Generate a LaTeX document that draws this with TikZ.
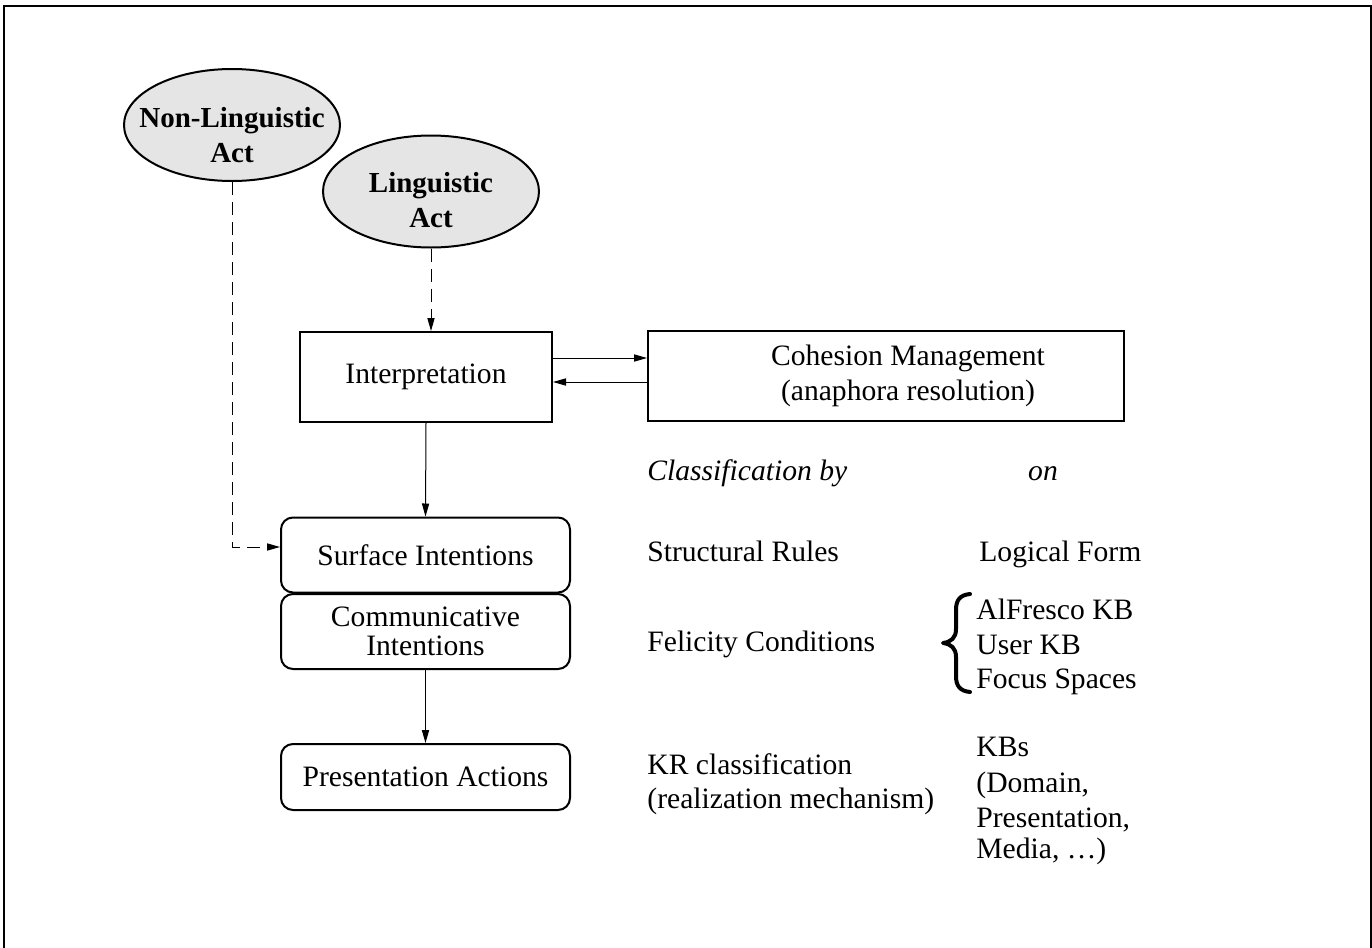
\documentclass[tikz,border=0pt]{standalone}
\usepackage{fontspec}
\setmainfont{Liberation Serif}
\usetikzlibrary{shapes.geometric,arrows.meta}

\tikzset{
  box/.style={draw, line width=1pt, minimum width=126pt, minimum height=45pt,
    inner sep=0pt, align=center},
  rbox/.style={draw, line width=1pt, rounded corners=6pt, minimum width=144.5pt,
    inner sep=0pt, align=center},
  act/.style={ellipse, draw, line width=1pt, fill=gray!20, minimum width=108pt,
    minimum height=56pt, inner sep=0pt},
  acttext/.style={inner sep=0pt, align=center,
    font=\fontsize{14.5}{17.5}\selectfont\bfseries},
  flow/.style={line width=0.5pt, -{Triangle[length=6.5pt,width=3.6pt]}},
  dflow/.style={flow, dash pattern=on 6.5pt off 3.5pt},
  txt/.style={inner sep=0pt, anchor=base west},
  bracestroke/.style={line width=2pt, line cap=round, line join=round},
}

\begin{document}
\begin{tikzpicture}[x=0.5pt, y=-0.5pt, font=\fontsize{14.8}{17.5}\selectfont]
  \useasboundingbox (0,0) rectangle (1372,948);

  % open frame (no bottom edge)
  \draw[line width=0.75pt] (4,948) -- (4,6) -- (1371,6) -- (1371,948);

  % acts
  \node[act] (nl) at (232,125) {};
  \node[acttext] (nltext) at ([yshift=-5pt]nl.center) {Non-Linguistic\\Act};
  \node[act] (la) at (431,191.5) {};
  \node[acttext] (latext) at ([yshift=-4.5pt]la.center) {Linguistic\\Act};

  % processing boxes
  \node[box] (ip) at (426,377) {Interpretation};
  \node[box, minimum width=238pt] (cm) at (886,376) {};
  \node[align=center, inner sep=0pt] (cmtext) at ([xshift=11pt]cm.center)
    {Cohesion Management\\(anaphora resolution)};

  \node[rbox, minimum height=37.5pt] (si) at (425.5,555) {Surface Intentions};
  \node[rbox, minimum height=37.5pt, font=\fontsize{14.8}{14.5}\selectfont] (ci) at (425.5,631.5)
    {Communicative\\Intentions};
  \node[rbox, minimum height=33pt] (pa) at (425.5,777) {Presentation Actions};

  % connectors
  \draw[dflow] (la.south) -- (la.south |- ip.north);
  \draw[dflow] (nl.south) |- ([yshift=4pt]si.west);
  \draw[flow] ([yshift=9.5pt]ip.east) -- ([yshift=9.5pt]ip.east -| cm.west);
  \draw[flow] ([yshift=-3pt]cm.west) -- ([yshift=-3pt]cm.west -| ip.east);
  \draw[flow] (ip.south) -- (si.north);
  \draw[flow] (ci.south) -- (pa.north);

  % classification table
  \node[txt] (hby) at (647,480) {\itshape Classification by};
  \node[inner sep=0pt, anchor=base] (hon) at (1043,480) {\itshape on};

  \node[txt] (r1a) at (647,561) {Structural Rules};
  \node[txt] (r1b) at (979,561) {Logical Form};

  \node[txt] (r2a) at (647,651) {Felicity Conditions};
  % curly brace grouping the three knowledge sources
  \draw[bracestroke] (970,594) .. controls (960,595) and (956,600) .. (956,610)
    -- (956,629) .. controls (956,638) and (951,642) .. (943,643)
    .. controls (951,644) and (956,648) .. (956,657)
    -- (956,676) .. controls (956,686) and (960,691) .. (970,692);
  \node[txt] (r2b) at (976,619) {AlFresco KB};
  \node[txt] (r2c) at (976,654) {User KB};
  \node[txt] (r2d) at (976,688) {Focus Spaces};

  \node[txt] (r3a) at (647,774) {KR classification};
  \node[txt] (r3b) at (647,808) {(realization mechanism)};
  \node[txt] (r3c) at (976,756) {KBs};
  \node[txt] (r3d) at (976,792) {(Domain,};
  \node[txt] (r3e) at (976,827.5) {Presentation,};
  \node[txt] (r3f) at (976,858) {Media, \ldots)};
\end{tikzpicture}
\end{document}
